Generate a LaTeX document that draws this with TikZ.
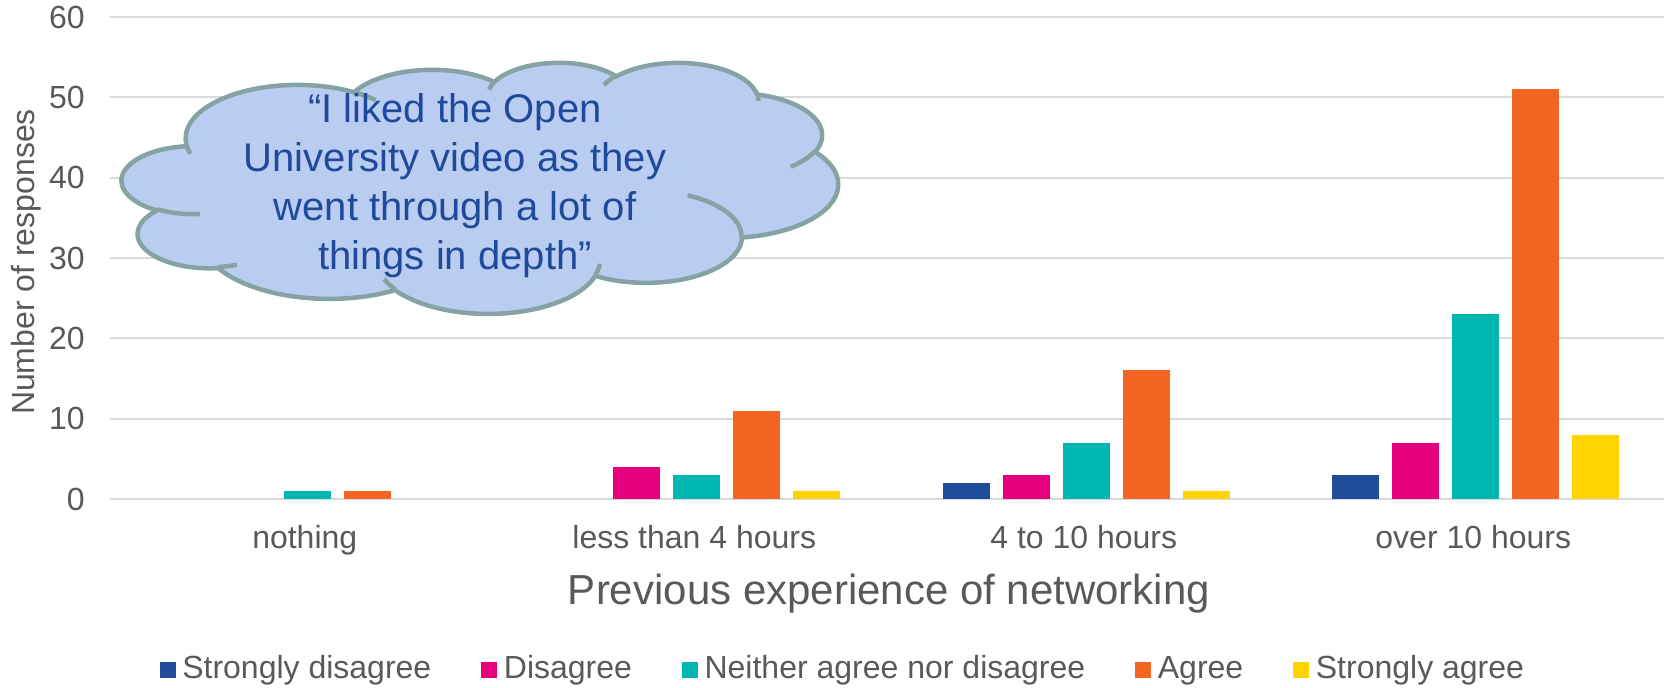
\documentclass[tikz,border=0pt]{standalone}
\usepackage{fontspec}
\setmainfont{Liberation Sans}
\usetikzlibrary{positioning}

\definecolor{txtgray}{RGB}{89,89,89}
\definecolor{gridgray}{RGB}{217,217,217}
\definecolor{ser0}{RGB}{31,77,155}
\definecolor{ser1}{RGB}{230,0,126}
\definecolor{ser2}{RGB}{0,183,178}
\definecolor{ser3}{RGB}{242,101,35}
\definecolor{ser4}{RGB}{255,212,0}
\definecolor{cloudfill}{RGB}{185,205,240}
\definecolor{cloudedge}{RGB}{134,163,163}
\definecolor{quoteblue}{RGB}{31,73,155}

\tikzset{
  gridrule/.style={gridgray, line width=1pt},
  ticklabel/.style={text=txtgray, font=\fontsize{16}{19}\selectfont, inner sep=0pt},
  catlabel/.style={text=txtgray, font=\fontsize{16}{19}\selectfont, inner sep=0pt},
  axistitle/.style={text=txtgray, font=\fontsize{21}{25}\selectfont, inner sep=0pt},
  ytitle/.style={text=txtgray, font=\fontsize{16}{19}\selectfont, inner sep=0pt},
  legkey/.style={minimum size=8pt, inner sep=0pt},
  legtext/.style={text=txtgray, font=\fontsize{16}{19}\selectfont, inner sep=0pt},
  cloudrim/.style={cloudedge, line width=2.25pt},
  quote/.style={text=quoteblue, font=\fontsize{20}{24.5}\selectfont, align=center, inner sep=0pt},
  % one bump of the cloud: x radius, y radius, start and sweep angle (as seen)
  puff/.style n args={4}{insert path={arc[x radius=#1, y radius=#2,
      start angle={atan2(#1*sin(#3),#2*cos(#3))},
      delta angle={mod(atan2(#1*sin(#3+#4),#2*cos(#3+#4))-atan2(#1*sin(#3),#2*cos(#3))+720,360)}]}}
}

\begin{document}
\begin{tikzpicture}[x=0.5pt, y=-0.5pt, line join=round]
\useasboundingbox (0,0) rectangle (1664,687);

% gridlines and y ticks
\foreach \v in {0,10,...,60}
{
  \draw[gridrule] (110,{499-8.0333*\v}) -- (1664,{499-8.0333*\v});
  \node[ticklabel, anchor=east] (tick\v) at (85,{499-8.0333*\v}) {\v};
}

% bars: category / series / value
\foreach \c/\s/\v in {0/2/1, 0/3/1,
                      1/1/4, 1/2/3, 1/3/11, 1/4/1,
                      2/0/2, 2/1/3, 2/2/7, 2/3/16, 2/4/1,
                      3/0/3, 3/1/7, 3/2/23, 3/3/51, 3/4/8}
  \fill[ser\s] ({163.5+389.5*\c+60*\s},499) rectangle ++(47,{-8.0333*\v});

% categories
\foreach \c/\name in {0/nothing, 1/less than 4 hours, 2/4 to 10 hours, 3/over 10 hours}
  \node[catlabel, anchor=base] (cat\c) at ({304.75+389.5*\c},548) {\name};

% axis titles
\node[axistitle, anchor=base] (xtitle) at (889,604) {Previous experience of networking};
\node[ytitle, rotate=90, anchor=base] (ytitle) at (34,262) {Number of responses};

% legend
\node[legkey, fill=ser0] (key0) at (167.5,670) {};
\node[legtext, anchor=base west] (lab0) at ([xshift=3pt]key0.south east) {Strongly disagree};
\node[legkey, fill=ser1, anchor=south west] (key1) at ([xshift=24.5pt]lab0.base east) {};
\node[legtext, anchor=base west] (lab1) at ([xshift=3pt]key1.south east) {Disagree};
\node[legkey, fill=ser2, anchor=south west] (key2) at ([xshift=24.5pt]lab1.base east) {};
\node[legtext, anchor=base west] (lab2) at ([xshift=3pt]key2.south east) {Neither agree nor disagree};
\node[legkey, fill=ser3, anchor=south west] (key3) at ([xshift=24.5pt]lab2.base east) {};
\node[legtext, anchor=base west] (lab3) at ([xshift=3pt]key3.south east) {Agree};
\node[legkey, fill=ser4, anchor=south west] (key4) at ([xshift=24.5pt]lab3.base east) {};
\node[legtext, anchor=base west] (lab4) at ([xshift=3pt]key4.south east) {Strongly agree};

% quote cloud
\begin{scope}[shift={(122,62)}, x=0.8287pt, y=-0.29051pt]
  \draw[cloudrim, fill=cloudfill] (39.00,143.70)
    [puff={67.53}{91.90}{-190.4875}{123.7805}]
    [puff={53.33}{72.67}{-144.1024}{89.9452}]
    [puff={43.65}{59.45}{-145.8079}{99.7230}]
    [puff={48.57}{65.95}{-130.9861}{117.2417}]
    [puff={53.33}{72.73}{-78.7089}{109.0269}]
    [puff={67.75}{92.20}{-46.2673}{130.2690}]
    [puff={57.85}{78.67}{0.6250}{114.0333}]
    [puff={67.52}{92.15}{22.4516}{115.1726}]
    [puff={77.20}{105.43}{66.2426}{75.7110}]
    [puff={43.60}{59.18}{-274.9421}{146.7356}]
    [puff={43.45}{59.45}{-246.8285}{152.5189}] -- cycle;
  % inner folds
  \draw[cloudrim]
    (46.93,261.77) [puff={43.45}{59.45}{86.7420}{26.4295}]
    (69.28,348.99) [puff={43.60}{59.18}{73.6105}{11.4475}]
    (164.78,390.90) [puff={67.52}{92.15}{137.6242}{14.0811}]
    (288.27,347.51) [puff={67.52}{92.15}{6.4533}{15.9984}]
    (341.29,229.54) [puff={57.85}{78.67}{-70.2924}{70.9174}]
    (417.98,153.54) [puff={53.33}{72.73}{30.3180}{27.7515}]
    (383.24,54.26) [puff={48.57}{65.95}{-13.7443}{14.8589}]
    (290.78,39.52) [puff={48.57}{65.95}{-149.1815}{18.1954}]
    (221.41,47.20) [puff={43.65}{59.45}{-163.4943}{17.6864}]
    (140.00,51.92) [puff={67.53}{91.90}{-66.7070}{12.3194}]
    (41.27,157.89) [puff={67.53}{91.90}{157.6544}{11.8582}];
\end{scope}
\node[quote] (quote) at (455,186) {“I liked the Open\\University video as they\\went through a lot of\\things in depth”};

\end{tikzpicture}
\end{document}
